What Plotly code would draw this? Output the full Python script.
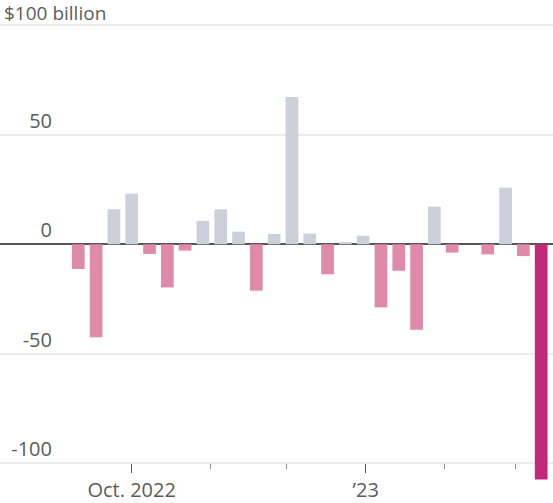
import pandas as pd
import plotly.graph_objects as go

# Weekly change, $ billion
weeks = [
    "2022-09-10", "2022-09-17", "2022-09-24", "2022-10-01", "2022-10-08",
    "2022-10-15", "2022-10-22", "2022-10-29", "2022-11-05", "2022-11-12",
    "2022-11-19", "2022-11-26", "2022-12-03", "2022-12-10", "2022-12-17",
    "2022-12-24", "2022-12-31", "2023-01-07", "2023-01-14", "2023-01-21",
    "2023-01-28", "2023-02-04", "2023-02-11", "2023-02-18", "2023-02-25",
    "2023-03-04", "2023-03-11",
]
change = [
    -11.3, -42.5, 16.0, 23.1, -4.4,
    -19.7, -2.9, 10.7, 16.0, 5.8,
    -21.2, 4.7, 67.2, 4.9, -13.7,
    1.0, 3.9, -28.8, -12.1, -39.0,
    17.2, -3.8, 0.0, -4.6, 25.9,
    -5.4, -107.4,
]

y_ticks = [-100, -50, 0, 50, 100]
y_tick_text = ["-100", "-50", "0", "50", ""]
major_ticks = ["2022-10-01", "2023-01-01"]
major_text = ["Oct. 2022", "’23"]
minor_ticks = ["2022-11-01", "2022-12-01", "2023-02-01", "2023-03-01"]

POS = "#cbd0da"
NEG = "#df8aab"
LATEST = "#c2287a"
TEXT = "#5c5c5c"
FONT = "Open Sans"

colors = []
for i, v in enumerate(change):
    if i == len(change) - 1:
        colors.append(LATEST)
    elif v >= 0:
        colors.append(POS)
    else:
        colors.append(NEG)

day = pd.Timedelta(days=1)
anchor = pd.Timestamp("2022-10-01")
x_lo = anchor - 51.78 * day
x_hi = anchor + 165.64 * day

W, H = 553, 503
top, bottom = 20, 19
y_lo, y_hi = -109.45, 102.4
x_axis_pos = (-100 - y_lo) / (y_hi - y_lo)

fig = go.Figure(
    go.Bar(
        x=pd.to_datetime(weeks),
        y=change,
        width=5 * 86400000,
        marker=dict(color=colors, line=dict(width=0)),
        hoverinfo="x+y",
    )
)

fig.update_layout(
    width=W,
    height=H,
    margin=dict(l=0, r=0, t=top, b=bottom, pad=0),
    paper_bgcolor="white",
    plot_bgcolor="white",
    showlegend=False,
    font=dict(family=FONT, size=20, color=TEXT),
    xaxis=dict(
        type="date",
        range=[x_lo, x_hi],
        anchor="free",
        position=x_axis_pos,
        showgrid=False,
        zeroline=False,
        showline=False,
        tickmode="array",
        tickvals=major_ticks,
        ticktext=major_text,
        ticks="outside",
        ticklen=9,
        tickwidth=1,
        tickcolor="#555555",
        tickfont=dict(family=FONT, size=20, color=TEXT),
        minor=dict(
            tickmode="array",
            tickvals=minor_ticks,
            ticks="outside",
            ticklen=5,
            tickwidth=1,
            tickcolor="#8a8a8a",
            showgrid=False,
        ),
        automargin=False,
        fixedrange=True,
    ),
    yaxis=dict(
        range=[y_lo, y_hi],
        anchor="free",
        position=52 / W,
        side="left",
        tickmode="array",
        tickvals=y_ticks,
        ticktext=y_tick_text,
        ticks="",
        ticklabelposition="outside top",
        tickfont=dict(family=FONT, size=20, color=TEXT),
        showgrid=True,
        gridcolor="#ebebeb",
        gridwidth=1.5,
        zeroline=True,
        zerolinecolor="#555555",
        zerolinewidth=1.5,
        showline=False,
        automargin=False,
        fixedrange=True,
    ),
    annotations=[
        dict(
            text="$100 billion",
            xref="paper",
            x=0,
            xshift=2,
            yref="y",
            y=100,
            yshift=-3,
            xanchor="left",
            yanchor="bottom",
            showarrow=False,
            font=dict(family=FONT, size=19, color=TEXT),
        )
    ],
)

fig.write_html("out.html")
